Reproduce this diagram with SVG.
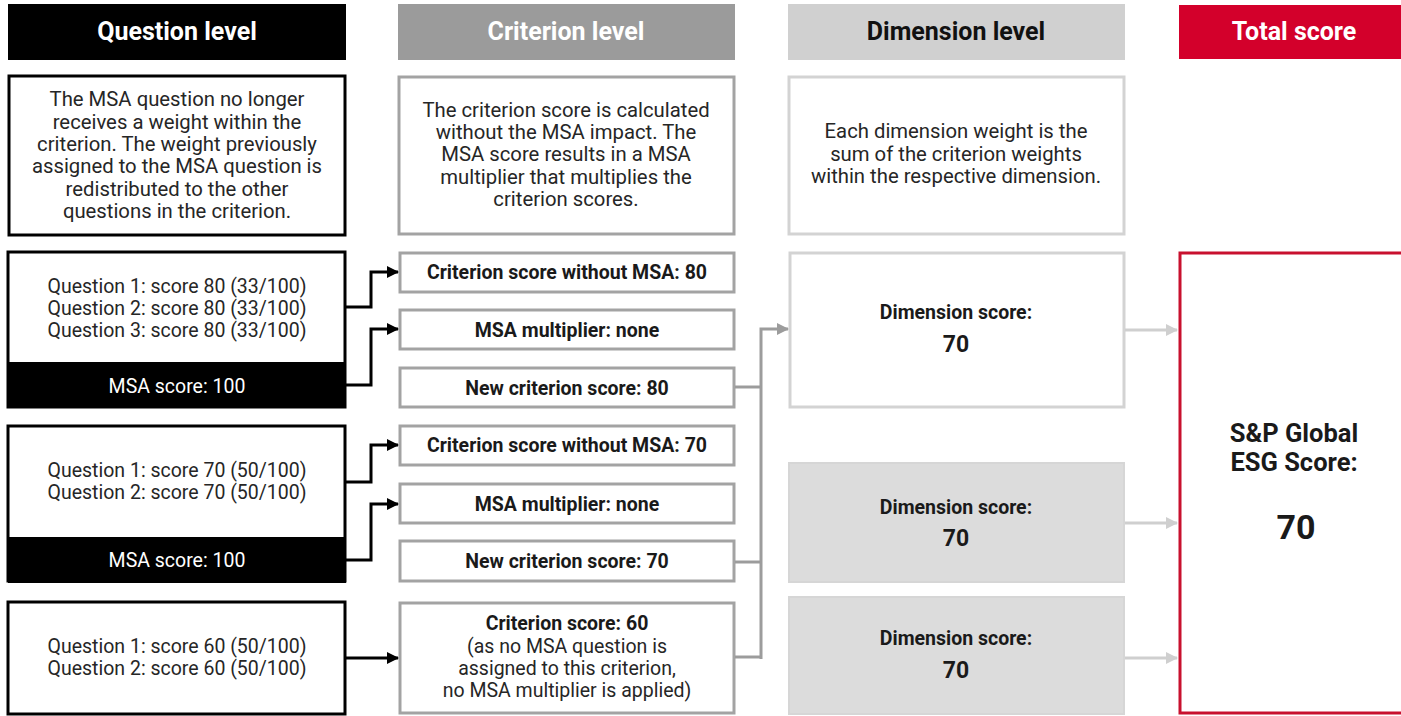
<svg xmlns="http://www.w3.org/2000/svg" width="1401" height="716" viewBox="0 0 1401 716">
<style>
text{font-family:Roboto,"Liberation Sans",sans-serif;text-anchor:middle;dominant-baseline:central}
.hd{font-size:25px;font-weight:bold}
.t{font-size:19.5px;fill:#262626}
.d{font-size:20.3px;fill:#262626}
.b{font-size:19.5px;font-weight:bold;fill:#1a1a1a}
.n{font-size:23px;font-weight:bold;fill:#1a1a1a}
.qbox{fill:#fff;stroke:#000;stroke-width:3}
.cbox{fill:#fff;stroke:#a3a3a3;stroke-width:3}
.dbox{fill:#fff;stroke:#d3d3d3;stroke-width:3}
.dfill{fill:#dcdcdc;stroke:#d6d6d6;stroke-width:2}
.ck{fill:none;stroke:#000;stroke-width:3}
.cg{fill:none;stroke:#9c9c9c;stroke-width:3}
.cl{fill:none;stroke:#cfcfcf;stroke-width:3}
</style>
<defs>
<marker id="ak" markerWidth="12" markerHeight="12" refX="11" refY="6" orient="auto" markerUnits="userSpaceOnUse"><path d="M0,0 L12,6 L0,12 Z" fill="#000"/></marker>
<marker id="ag" markerWidth="12" markerHeight="12" refX="11" refY="6" orient="auto" markerUnits="userSpaceOnUse"><path d="M0,0 L12,6 L0,12 Z" fill="#9c9c9c"/></marker>
<marker id="al" markerWidth="12" markerHeight="12" refX="11" refY="6" orient="auto" markerUnits="userSpaceOnUse"><path d="M0,0 L12,6 L0,12 Z" fill="#cfcfcf"/></marker>
</defs>
<rect width="1401" height="716" fill="#fff"/>

<g id="hdr-question"><rect x="8" y="4" width="338" height="56" fill="#000"/><text class="hd" x="177" y="31" fill="#fff">Question level</text></g>
<g id="hdr-criterion"><rect x="398" y="4" width="337" height="56" fill="#9b9b9b"/><text class="hd" x="566" y="31" fill="#fff">Criterion level</text></g>
<g id="hdr-dimension"><rect x="788" y="4" width="337" height="56" fill="#d0d0d0"/><text class="hd" x="956" y="31" fill="#111">Dimension level</text></g>
<g id="hdr-total"><rect x="1179" y="5" width="222" height="54" fill="#d3002b"/><text class="hd" x="1294" y="31" fill="#fff">Total score</text></g>

<g id="desc-question"><rect class="qbox" x="9" y="76" width="336" height="159"/>
<text class="d" x="177" y="99">The MSA question no longer</text>
<text class="d" x="177" y="122">receives a weight within the</text>
<text class="d" x="177" y="144">criterion. The weight previously</text>
<text class="d" x="177" y="166">assigned to the MSA question is</text>
<text class="d" x="177" y="189">redistributed to the other</text>
<text class="d" x="177" y="211">questions in the criterion.</text></g>
<g id="desc-criterion"><rect class="cbox" x="399" y="77" width="335" height="157"/>
<text class="d" x="566" y="110">The criterion score is calculated</text>
<text class="d" x="566" y="132">without the MSA impact. The</text>
<text class="d" x="566" y="154">MSA score results in a MSA</text>
<text class="d" x="566" y="177">multiplier that multiplies the</text>
<text class="d" x="566" y="199">criterion scores.</text></g>
<g id="desc-dimension"><rect class="dbox" x="789" y="77" width="335" height="157"/>
<text class="d" x="956" y="131">Each dimension weight is the</text>
<text class="d" x="956" y="154">sum of the criterion weights</text>
<text class="d" x="956" y="176">within the respective dimension.</text></g>

<g id="q1"><rect class="qbox" x="8" y="252" width="337" height="155"/><rect x="8" y="362" width="338" height="46" fill="#000"/>
<text class="t" x="177" y="286">Question 1: score 80 (33/100)</text>
<text class="t" x="177" y="308">Question 2: score 80 (33/100)</text>
<text class="t" x="177" y="330">Question 3: score 80 (33/100)</text>
<text class="t" x="177" y="386" style="fill:#fff">MSA score: 100</text></g>
<g id="q2"><rect class="qbox" x="8" y="426" width="337" height="155"/><rect x="8" y="537" width="338" height="46" fill="#000"/>
<text class="t" x="177" y="470">Question 1: score 70 (50/100)</text>
<text class="t" x="177" y="492">Question 2: score 70 (50/100)</text>
<text class="t" x="177" y="560" style="fill:#fff">MSA score: 100</text></g>
<g id="q3"><rect class="qbox" x="8" y="602" width="337" height="112"/>
<text class="t" x="177" y="646">Question 1: score 60 (50/100)</text>
<text class="t" x="177" y="668">Question 2: score 60 (50/100)</text></g>

<g id="c1a"><rect class="cbox" x="400" y="253" width="334" height="39"/><text class="b" x="567" y="272">Criterion score without MSA: 80</text></g>
<g id="c1b"><rect class="cbox" x="400" y="310" width="334" height="39"/><text class="b" x="567" y="330">MSA multiplier: none</text></g>
<g id="c1c"><rect class="cbox" x="400" y="368" width="334" height="39"/><text class="b" x="567" y="388">New criterion score: 80</text></g>
<g id="c2a"><rect class="cbox" x="400" y="426" width="334" height="39"/><text class="b" x="567" y="445">Criterion score without MSA: 70</text></g>
<g id="c2b"><rect class="cbox" x="400" y="484" width="334" height="39"/><text class="b" x="567" y="504">MSA multiplier: none</text></g>
<g id="c2c"><rect class="cbox" x="400" y="541" width="334" height="40"/><text class="b" x="567" y="561">New criterion score: 70</text></g>
<g id="c3"><rect class="cbox" x="400" y="603" width="334" height="110"/>
<text class="b" x="567" y="623">Criterion score: 60</text>
<text class="t" x="567" y="646">(as no MSA question is</text>
<text class="t" x="567" y="668">assigned to this criterion,</text>
<text class="t" x="567" y="690">no MSA multiplier is applied)</text></g>

<g id="d1"><rect class="dbox" x="790" y="253" width="334" height="154"/><text class="b" x="956" y="312">Dimension score:</text><text class="n" x="956" y="344">70</text></g>
<g id="d2"><rect class="dfill" x="789" y="463" width="335" height="119"/><text class="b" x="956" y="507">Dimension score:</text><text class="n" x="956" y="538">70</text></g>
<g id="d3"><rect class="dfill" x="789" y="597" width="335" height="117"/><text class="b" x="956" y="638">Dimension score:</text><text class="n" x="956" y="670">70</text></g>

<g id="total"><rect x="1180" y="253" width="240" height="460" fill="#fff" stroke="#c8102e" stroke-width="3"/>
<text x="1294" y="433" style="font-size:25.5px;font-weight:bold;fill:#1a1a1a">S&amp;P Global</text>
<text x="1294" y="462" style="font-size:25.5px;font-weight:bold;fill:#1a1a1a">ESG Score:</text>
<text x="1296" y="527" style="font-size:34px;font-weight:bold;fill:#1a1a1a">70</text></g>

<g id="connectors">
<path class="ck" d="M346,307 H371 V272 H398" marker-end="url(#ak)"/>
<path class="ck" d="M346,385 H371 V329 H398" marker-end="url(#ak)"/>
<path class="ck" d="M346,482 H371 V445 H398" marker-end="url(#ak)"/>
<path class="ck" d="M346,560 H371 V504 H398" marker-end="url(#ak)"/>
<path class="ck" d="M346,658 H398" marker-end="url(#ak)"/>
<path class="cg" d="M735,387 H761"/>
<path class="cg" d="M735,562 H761"/>
<path class="cg" d="M735,657 H761"/>
<path class="cg" d="M761,659 V329 H788" marker-end="url(#ag)"/>
<path class="cl" d="M1125,330 H1177" marker-end="url(#al)"/>
<path class="cl" d="M1125,523 H1177" marker-end="url(#al)"/>
<path class="cl" d="M1125,658 H1177" marker-end="url(#al)"/>
</g>
</svg>
